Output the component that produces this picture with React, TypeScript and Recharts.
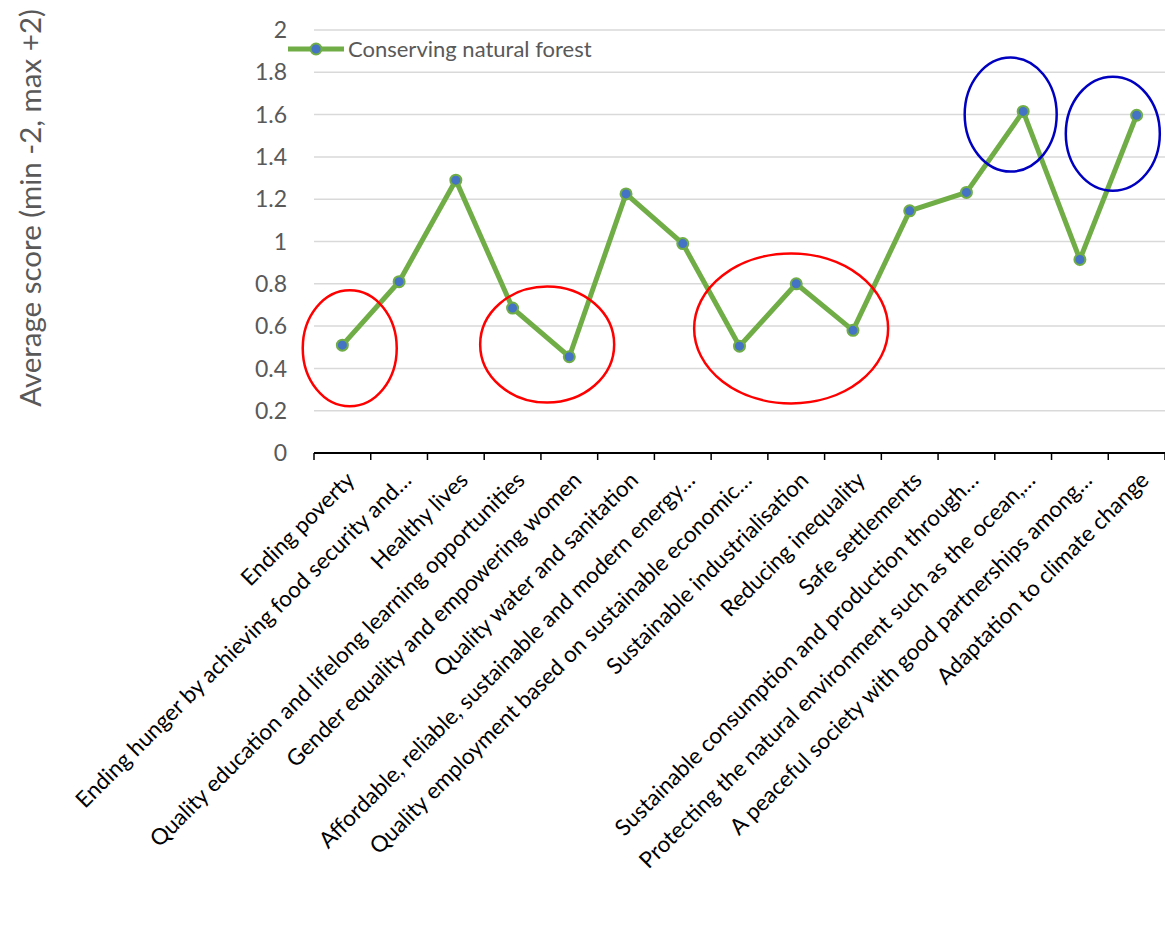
import { LineChart, Line, XAxis, YAxis, CartesianGrid, Legend, ReferenceDot } from "recharts";

const categories = [
  "Ending poverty",
  "Ending hunger by achieving food security and…",
  "Healthy lives",
  "Quality education and lifelong learning opportunities",
  "Gender equality and empowering women",
  "Quality water and sanitation",
  "Affordable, reliable, sustainable and modern energy…",
  "Quality employment based on sustainable economic…",
  "Sustainable industrialisation",
  "Reducing inequality",
  "Safe settlements",
  "Sustainable consumption and production through…",
  "Protecting the natural environment such as the ocean,…",
  "A peaceful society with good partnerships among…",
  "Adaptation to climate change",
];

const forestScores = [0.51, 0.81, 1.29, 0.685, 0.455, 1.225, 0.99, 0.505, 0.8, 0.58, 1.145, 1.232, 1.615, 0.915, 1.597];

const yTicks = [0, 0.2, 0.4, 0.6, 0.8, 1, 1.2, 1.4, 1.6, 1.8, 2];

// highlight ellipses: centre in (category index, score) units
const ringX = [0.13, 3.61, 7.91, 11.78, 13.58];
const ringY = [0.495, 0.513, 0.589, 1.6, 1.51];
const ringColor = ["#FF0000", "#FF0000", "#FF0000", "#0000C0", "#0000C0"];
const ringRx = [47, 67, 97, 46, 47];
const ringRy = [58, 58, 75, 57, 57];

const data = categories.map((name, i) => ({ name, idx: i, score: forestScores[i] }));

const W = 1165;
const H = 937;
const LEFT = 314;
const HALF_BAND = (W - LEFT) / categories.length / 2;
const FONT = "Lato, 'Open Sans', sans-serif";

function CategoryTick(props: any) {
  const { x, y, payload, index } = props;
  return (
    <g transform={`translate(${x},${y})`}>
      <line x1={-HALF_BAND} x2={-HALF_BAND} y1={0} y2={7} stroke="#000" strokeWidth={1.5} />
      {index === categories.length - 1 && (
        <line x1={HALF_BAND} x2={HALF_BAND} y1={0} y2={7} stroke="#000" strokeWidth={1.5} />
      )}
      <text
        transform={`translate(8,23) rotate(-45)`}
        textAnchor="end"
        dy="0.35em"
        fill="#000"
        fontSize={22.5}
        fontFamily={FONT}
      >
        {payload.value}
      </text>
    </g>
  );
}

function LegendContent() {
  return (
    <div style={{ display: "flex", alignItems: "center", fontFamily: FONT, fontSize: 22, color: "#595959" }}>
      <svg width={56} height={14}>
        <line x1={0} x2={56} y1={7} y2={7} stroke="#70AD47" strokeWidth={5} />
        <circle cx={28} cy={7} r={5.5} fill="#4472C4" stroke="#70AD47" strokeWidth={2} />
      </svg>
      <span style={{ marginLeft: 4 }}>Conserving natural forest</span>
    </div>
  );
}

function Ring(i: number) {
  return (props: any) => (
    <ellipse
      cx={props.cx}
      cy={props.cy}
      rx={ringRx[i]}
      ry={ringRy[i]}
      fill="none"
      stroke={ringColor[i]}
      strokeWidth={2.5}
    />
  );
}

export default function App() {
  return (
    <div style={{ position: "absolute", left: 0, top: 0, width: W, height: H, background: "#fff" }}>
      <LineChart width={W} height={H} data={data} margin={{ top: 30, right: 0, left: 0, bottom: 0 }}>
        <CartesianGrid vertical={false} stroke="#D9D9D9" strokeWidth={1.5} />
        <XAxis
          dataKey="name"
          interval={0}
          height={484}
          padding={{ left: HALF_BAND, right: HALF_BAND }}
          tickLine={false}
          tickSize={0}
          tickMargin={0}
          axisLine={{ stroke: "#000", strokeWidth: 2 }}
          tick={<CategoryTick />}
        />
        <XAxis xAxisId="num" type="number" dataKey="idx" domain={[-0.5, 14.5]} hide />
        <YAxis
          width={LEFT}
          domain={[0, 2]}
          ticks={yTicks}
          interval={0}
          axisLine={false}
          tickLine={false}
          tickSize={0}
          tickMargin={27}
          tickFormatter={(v: number) => String(Number(v.toFixed(1)))}
          tick={{ fill: "#595959", fontSize: 23, fontFamily: FONT }}
          label={{
            content: () => (
              <text
                x={29}
                y={208}
                transform="rotate(-90, 29, 208)"
                textAnchor="middle"
                dominantBaseline="central"
                fill="#595959"
                fontSize={29.5}
                fontFamily={FONT}
              >
                Average score (min -2, max +2)
              </text>
            ),
          }}
        />
        <Legend
          verticalAlign="middle"
          content={<LegendContent />}
          wrapperStyle={{ top: 35, left: 288, width: "auto" }}
        />
        <Line
          dataKey="score"
          name="Conserving natural forest"
          stroke="#70AD47"
          strokeWidth={5}
          dot={{ r: 5.5, fill: "#4472C4", stroke: "#70AD47", strokeWidth: 2 }}
          activeDot={false}
          isAnimationActive={false}
        />
        {ringX.map((rx, i) => (
          <ReferenceDot
            key={i}
            xAxisId="num"
            x={rx}
            y={ringY[i]}
            r={1}
            ifOverflow="visible"
            shape={Ring(i)}
          />
        ))}
      </LineChart>
    </div>
  );
}
